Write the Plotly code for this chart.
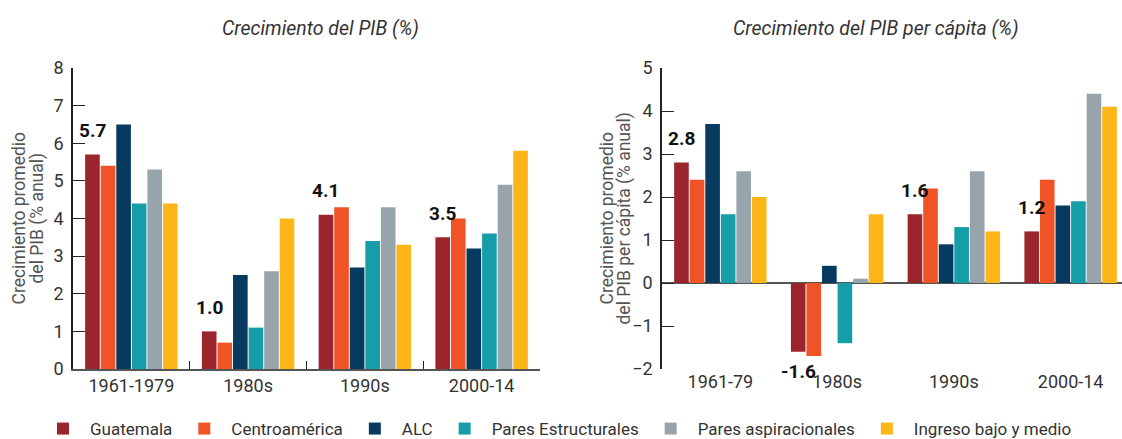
import plotly.graph_objects as go
from plotly.subplots import make_subplots

periods_left = ["1961-1979", "1980s", "1990s", "2000-14"]
periods_right = ["1961-79", "1980s", "1990s", "2000-14"]
series_names = ["Guatemala", "Centroamérica", "ALC", "Pares Estructurales",
                "Pares aspiracionales", "Ingreso bajo y medio"]
colors = ["#9B252D", "#EF5326", "#063A5E", "#159EA8", "#97A4AC", "#FCB617"]

gdp_guatemala = [5.7, 1.0, 4.1, 3.5]
gdp_centroamerica = [5.4, 0.7, 4.3, 4.0]
gdp_alc = [6.5, 2.5, 2.7, 3.2]
gdp_pares_estructurales = [4.4, 1.1, 3.4, 3.6]
gdp_pares_aspiracionales = [5.3, 2.6, 4.3, 4.9]
gdp_ingreso_bajo_medio = [4.4, 4.0, 3.3, 5.8]

pc_guatemala = [2.8, -1.6, 1.6, 1.2]
pc_centroamerica = [2.4, -1.7, 2.2, 2.4]
pc_alc = [3.7, 0.4, 0.9, 1.8]
pc_pares_estructurales = [1.6, -1.4, 1.3, 1.9]
pc_pares_aspiracionales = [2.6, 0.1, 2.6, 4.4]
pc_ingreso_bajo_medio = [2.0, 1.6, 1.2, 4.1]

left_series = [gdp_guatemala, gdp_centroamerica, gdp_alc, gdp_pares_estructurales,
               gdp_pares_aspiracionales, gdp_ingreso_bajo_medio]
right_series = [pc_guatemala, pc_centroamerica, pc_alc, pc_pares_estructurales,
                pc_pares_aspiracionales, pc_ingreso_bajo_medio]

FONT = "Roboto"
W, H = 1122, 439
MT, MB = 68, 70
PH = H - MT - MB
L0, L1 = 73, 540          # left plot pixel extent
R0 = 662                  # right plot axis pixel
cat_px = (L1 - L0) / 4
left_dom = [L0 / W, L1 / W]
right_dom = [R0 / W, 1.0]
right_xmax = -0.5 + (W - R0) / cat_px

fig = make_subplots(rows=1, cols=2)

for name, color, lv, rv in zip(series_names, colors, left_series, right_series):
    fig.add_trace(go.Bar(x=periods_left, y=lv, name=name, marker_color=color,
                         marker_line_width=0, legendgroup=name, showlegend=True),
                  row=1, col=1)
    fig.add_trace(go.Bar(x=periods_right, y=rv, name=name, marker_color=color,
                         marker_line_width=0, legendgroup=name, showlegend=False),
                  row=1, col=2)

bargap = 0.2
nser = len(series_names)
group_w = cat_px * (1 - bargap)
bar_w = group_w / nser
first_off = -group_w / 2 + bar_w / 2

labelfont = dict(family=FONT, size=19, color="#111111")
for cat, v in zip(periods_left, gdp_guatemala):
    fig.add_annotation(x=cat, y=v, xref="x", yref="y", text=f"<b>{v:.1f}</b>",
                       showarrow=False, xshift=first_off, yshift=24 if v >= 0 else -20,
                       font=labelfont)
for cat, v in zip(periods_right, pc_guatemala):
    fig.add_annotation(x=cat, y=v, xref="x2", yref="y2", text=f"<b>{v:.1f}</b>",
                       showarrow=False, xshift=first_off, yshift=24 if v >= 0 else -20,
                       font=labelfont)

# chart titles
titlefont = dict(family=FONT, size=19.5, color="#333333")
fig.add_annotation(x=320 / W, y=1.0, xref="paper", yref="paper",
                   text="<i>Crecimiento del PIB (%)</i>", showarrow=False,
                   xanchor="center", yanchor="middle", yshift=40, font=titlefont)
fig.add_annotation(x=875 / W, y=1.0, xref="paper", yref="paper",
                   text="<i>Crecimiento del PIB per cápita (%)</i>", showarrow=False,
                   xanchor="center", yanchor="middle", yshift=40, font=titlefont)

# y-axis titles (two lines each)
ytitlefont = dict(family=FONT, size=17.5, color="#555555")
ytitles = [
    ("Crecimiento promedio", 18), ("del PIB (% anual)", 37),
    ("Crecimiento promedio", 606), ("del PIB per cápita (% anual)", 624),
]
for txt, xpx in ytitles:
    fig.add_annotation(x=xpx / W, y=0.5, xref="paper", yref="paper", text=txt,
                       textangle=-90, showarrow=False, xanchor="center",
                       yanchor="middle", font=ytitlefont)

tickfont = dict(family=FONT, size=18, color="#333333")

fig.update_layout(
    width=W, height=H,
    margin=dict(l=0, r=0, t=MT, b=MB, autoexpand=False),
    paper_bgcolor="white", plot_bgcolor="white",
    barmode="group", bargap=bargap, bargroupgap=0.06,
    font=dict(family=FONT, color="#333333"),
    legend=dict(orientation="h", x=36 / W, xanchor="left", y=-60 / PH, yanchor="middle",
                font=dict(family=FONT, size=17, color="#333333"),
                itemwidth=44, tracegroupgap=0),
    xaxis=dict(domain=left_dom, type="category", range=[-0.5, 3.5],
               showline=True, linecolor="#555555", linewidth=1.5,
               ticks="inside", tickson="boundaries", ticklen=8, tickcolor="#222222",
               tickfont=tickfont, showgrid=False, zeroline=False, automargin=False),
    yaxis=dict(range=[0, 8], dtick=1, showline=True, linecolor="#222222", linewidth=1.5,
               ticks="inside", ticklen=12, tickcolor="#222222", tickfont=tickfont,
               ticklabelstandoff=4,
               showgrid=False, zeroline=False, automargin=False),
    xaxis2=dict(domain=right_dom, type="category", range=[-0.5, right_xmax],
                showline=False, ticks="", tickfont=tickfont, showgrid=False,
                zeroline=False, anchor="y2", automargin=False),
    yaxis2=dict(range=[-2, 5], dtick=1, showline=True, linecolor="#222222", linewidth=1.5,
                ticks="inside", ticklen=12, tickcolor="#222222", tickfont=tickfont,
                ticklabelstandoff=4,
                showgrid=False, zeroline=True, zerolinecolor="#555555", zerolinewidth=1.5,
                anchor="x2", automargin=False),
    xaxis3=dict(domain=right_dom, overlaying="x2", anchor="free",
                position=(2 / 7), range=[-0.5, right_xmax], type="linear",
                tickmode="array", tickvals=[0.5, 1.5, 2.5],
                showticklabels=False, ticks="inside", ticklen=8, tickcolor="#222222",
                showline=False, showgrid=False, zeroline=False, automargin=False),
)

fig.write_html("out.html", config={"displayModeBar": False},
               post_script="document.body.style.margin='0px';")
